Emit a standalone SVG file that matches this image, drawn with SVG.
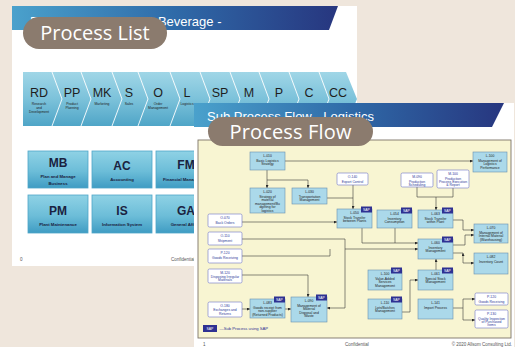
<svg xmlns="http://www.w3.org/2000/svg" width="515" height="347" viewBox="0 0 515 347">
<defs>
<linearGradient id="hdr" x1="0" y1="0" x2="1" y2="0"><stop offset="0" stop-color="#4aa1cc"/><stop offset="0.5" stop-color="#2f6aa8"/><stop offset="1" stop-color="#27367f"/></linearGradient>
<linearGradient id="band" x1="0" y1="0" x2="0" y2="1"><stop offset="0" stop-color="#a0d6e7"/><stop offset="0.5" stop-color="#7cc2da"/><stop offset="1" stop-color="#4fa5c7"/></linearGradient>
<linearGradient id="box" x1="0" y1="0" x2="0" y2="1"><stop offset="0" stop-color="#8fd2e5"/><stop offset="0.55" stop-color="#6cbdd8"/><stop offset="1" stop-color="#3f9cc3"/></linearGradient>
<marker id="ah" viewBox="0 0 6 6" refX="6" refY="3" markerWidth="3" markerHeight="3" markerUnits="userSpaceOnUse" orient="auto-start-reverse"><path d="M0,0 L6,3 L0,6 z" fill="#2a2a2a"/></marker>
<style>
.t{font-family:"Liberation Sans",Arial,sans-serif;}
.big{font-family:"Liberation Sans",Arial,sans-serif;font-size:12.5px;fill:#1e1e1e;text-anchor:middle;}
.sub{font-family:"Liberation Sans",Arial,sans-serif;font-size:3.4px;fill:#222;text-anchor:middle;}
.bx{fill:url(#box);stroke:#4fa6c8;stroke-width:0.8;}
.bxh{font-family:"Liberation Sans",Arial,sans-serif;font-size:12px;font-weight:bold;fill:#1a2240;text-anchor:middle;}
.bxs{font-family:"Liberation Sans",Arial,sans-serif;font-size:4.3px;font-weight:bold;fill:#1a2240;text-anchor:middle;}
.pill{fill:#8b7b6e;}
.pillt{font-family:"Open Sans","Noto Sans",sans-serif;font-size:20px;fill:#ffffff;text-anchor:middle;}
.ttl{font-family:"Liberation Sans",Arial,sans-serif;font-size:13px;fill:#ffffff;}
.foot{font-family:"Liberation Sans",Arial,sans-serif;font-size:4.5px;fill:#555;}
.nb rect.n{fill:#abd9ea;stroke:#6a8fae;stroke-width:0.6;}
.nw rect.n{fill:#ffffff;stroke:#6b74c6;stroke-width:0.6;}
.nb text{font-family:"Liberation Sans",Arial,sans-serif;font-size:3.4px;fill:#222;text-anchor:middle;}
.nw text{font-family:"Liberation Sans",Arial,sans-serif;font-size:3.4px;fill:#2d3a9a;text-anchor:middle;}
rect.sap{fill:#2e3192;}
text.sapt{font-family:"Liberation Sans",Arial,sans-serif;font-size:3.4px;fill:#ffffff;text-anchor:middle;}
.c{fill:none;stroke:#3a3a3a;stroke-width:0.6;}
.ca{fill:none;stroke:#3a3a3a;stroke-width:0.6;marker-end:url(#ah);}
</style>
</defs>
<rect x="0" y="0" width="515" height="347" fill="#efe6dc"/>

<!-- Slide 1: Process List -->
<g id="slide-process-list">
<rect x="12" y="6" width="345" height="260" fill="#ffffff"/>
<polygon points="12,6 338,6 329,30 12,30" fill="url(#hdr)"/>
<text class="ttl" x="30" y="25.5">Process List - Food &amp; Beverage -</text>
<polygon points="23,72 346,72 357,99 346,126 23,126" fill="url(#band)"/>
<g fill="none" stroke="#ffffff" stroke-width="0.9">
<polyline points="52,72 62,99 52,126"/><polyline points="81,72 91,99 81,126"/><polyline points="112,72 122,99 112,126"/><polyline points="138,72 148,99 138,126"/><polyline points="170,72 180,99 170,126"/><polyline points="200,72 210,99 200,126"/><polyline points="230,72 240,99 230,126"/><polyline points="259,72 269,99 259,126"/><polyline points="289,72 299,99 289,126"/><polyline points="319,72 329,99 319,126"/>
</g>
<text class="big" x="39" y="97">RD</text><text class="big" x="72" y="97">PP</text><text class="big" x="102" y="97">MK</text><text class="big" x="129" y="97">S</text><text class="big" x="158" y="97">O</text><text class="big" x="187" y="97">L</text><text class="big" x="220" y="97">SP</text><text class="big" x="249" y="97">M</text><text class="big" x="279" y="97">P</text><text class="big" x="309" y="97">C</text><text class="big" x="338" y="97">CC</text>
<text class="sub" x="39" y="104.5">Research</text><text class="sub" x="39" y="108.5">and</text><text class="sub" x="39" y="112.5">Development</text>
<text class="sub" x="72" y="104.5">Product</text><text class="sub" x="72" y="108.5">Planning</text>
<text class="sub" x="102" y="104.5">Marketing</text>
<text class="sub" x="129" y="104.5">Sales</text>
<text class="sub" x="158" y="104.5">Order</text><text class="sub" x="158" y="108.5">Management</text>
<text class="sub" x="187" y="104.5">Logistics</text>
<g id="box-mb"><rect class="bx" x="28" y="151" width="60" height="37"/><text class="bxh" x="58" y="166.5">MB</text><text class="bxs" x="58" y="178">Plan and Manage</text><text class="bxs" x="58" y="184.5">Business</text></g>
<g id="box-ac"><rect class="bx" x="92" y="151" width="60" height="37"/><text class="bxh" x="122" y="170">AC</text><text class="bxs" x="122" y="181">Accounting</text></g>
<g id="box-fm"><rect class="bx" x="156" y="151" width="60" height="37"/><text class="bxh" x="186" y="168.5">FM</text><text class="bxs" x="186" y="181">Financial Management</text></g>
<g id="box-pm"><rect class="bx" x="28" y="195" width="60" height="38"/><text class="bxh" x="58" y="214.5">PM</text><text class="bxs" x="58" y="225.5">Plant Maintenance</text></g>
<g id="box-is"><rect class="bx" x="92" y="195" width="60" height="38"/><text class="bxh" x="122" y="214.5">IS</text><text class="bxs" x="122" y="225.5">Information System</text></g>
<g id="box-ga"><rect class="bx" x="156" y="195" width="60" height="38"/><text class="bxh" x="186" y="214.5">GA</text><text class="bxs" x="186" y="225.5">General Affairs</text></g>
<text class="foot" x="20" y="260.5">0</text>
<text class="foot" x="171" y="260.5">Confidential</text>
<rect class="pill" x="23" y="17" width="144" height="32" rx="16"/>
<text class="pillt" x="95" y="40">Process List</text>
</g>

<!-- Slide 2: Process Flow -->
<g id="slide-process-flow">
<rect x="194" y="103" width="320" height="244" fill="#ffffff"/>
<polygon points="194,103 504,103 492,127 194,127" fill="url(#hdr)"/>
<text class="ttl" x="207" y="121">Sub Process Flow - Logistics</text>
<rect x="198" y="140" width="313" height="198" fill="#f8f5d2" stroke="#7d7468" stroke-width="0.9"/>
<text class="foot" x="203" y="345.5">1</text>
<text class="foot" x="345" y="345.5">Confidential</text>
<text class="foot" x="512" y="345.5" text-anchor="end">© 2020 Allsom Consulting Ltd.</text>
</g>

<g id="connectors">
<path class="ca" d="M267,170 V188"/>
<path class="ca" d="M267,180 H308 V188"/>
<path class="ca" d="M285,161 H473"/>
<path class="c" d="M327,198 H353"/>
<path class="ca" d="M353,185 V209"/>
<path class="ca" d="M242,222 H337"/>
<path class="c" d="M417,187 V197 H453 V188"/>
<path class="ca" d="M436,197 V210"/>
<path class="ca" d="M453,220 H463 V230 H474"/>
<path class="ca" d="M453,245 H465 V235 H474"/>
<path class="ca" d="M463,253 V263 H474" marker-start="url(#ah)"/>
<path class="c" d="M453,253 H463"/>
<path class="ca" d="M436,270 V259"/>
<path class="ca" d="M402,312 H410 V280 H418"/>
<path class="ca" d="M453,308 H463 V299 H475"/>
<path class="ca" d="M463,308 V320 H475"/>
<path class="ca" d="M242,309 H250"/>
<path class="ca" d="M285,309 H291"/>
<path class="ca" d="M242,275 H308 V297"/>
<path class="ca" d="M362,228 V243 H418"/>
<path class="c" d="M395,228 V243"/>
<path class="ca" d="M242,239 H345 V249 H418"/>
<path class="c" d="M242,256 H330 V249"/>
<path class="ca" d="M345,249 V308 H327"/>
</g>

<g id="n-l010" class="nb"><rect class="n" x="250" y="152" width="35" height="18"/><text x="267.5" y="156.8">L-010</text><text x="267.5" y="162">Basic Logistics</text><text x="267.5" y="165.4">Strategy</text></g>
<g id="n-l020" class="nb"><rect class="n" x="250" y="188" width="35" height="25"/><text x="267.5" y="192.8">L-020</text><text x="267.5" y="198">Strategy of</text><text x="267.5" y="201.4">material</text><text x="267.5" y="204.8">management/Bu</text><text x="267.5" y="208.2">dgeting for</text><text x="267.5" y="211.6">logistics</text></g>
<g id="n-l030" class="nb"><rect class="n" x="292" y="188" width="35" height="16"/><text x="309.5" y="192.8">L-030</text><text x="309.5" y="198">Transportation</text><text x="309.5" y="201.4">Management</text></g>
<g id="n-l050" class="nb"><rect class="n" x="337" y="209" width="35" height="19"/><rect class="sap" x="361" y="206.5" width="11" height="6"/><text class="sapt" x="366.5" y="210.8">SAP</text><text x="354.5" y="213.8">L-050</text><text x="354.5" y="219">Stock Transfer</text><text x="354.5" y="222.4">between Plants</text></g>
<g id="n-l054" class="nb"><rect class="n" x="377" y="210" width="35" height="18"/><rect class="sap" x="401" y="207.5" width="11" height="6"/><text class="sapt" x="406.5" y="211.8">SAP</text><text x="394.5" y="214.8">L-054</text><text x="394.5" y="220">Inventory</text><text x="394.5" y="223.4">Consumption</text></g>
<g id="n-l063" class="nb"><rect class="n" x="418" y="210" width="35" height="18"/><rect class="sap" x="442" y="207.5" width="11" height="6"/><text class="sapt" x="447.5" y="211.8">SAP</text><text x="435.5" y="214.8">L-063</text><text x="435.5" y="220">Stock Transfer</text><text x="435.5" y="223.4">within Plant</text></g>
<g id="n-l100" class="nb"><rect class="n" x="473" y="152" width="34" height="20"/><text x="490" y="156.8">L-100</text><text x="490" y="162">Management of</text><text x="490" y="165.4">Logistics</text><text x="490" y="168.8">Performance</text></g>
<g id="n-l070" class="nb"><rect class="n" x="474" y="224" width="34" height="19"/><text x="491" y="228.8">L-070</text><text x="491" y="234">Management of</text><text x="491" y="237.4">Internal Material</text><text x="491" y="240.8">(Warehousing)</text></g>
<g id="n-l060" class="nb"><rect class="n" x="418" y="239" width="35" height="20"/><rect class="sap" x="442" y="236.5" width="11" height="6"/><text class="sapt" x="447.5" y="240.8">SAP</text><text x="435.5" y="243.8">L-060</text><text x="435.5" y="249">Inventory</text><text x="435.5" y="252.4">Management</text></g>
<g id="n-l082" class="nb"><rect class="n" x="474" y="253" width="34" height="21"/><text x="491" y="257.8">L-082</text><text x="491" y="263">Inventory Count</text></g>
<g id="n-l100b" class="nb"><rect class="n" x="368" y="270" width="34" height="20"/><rect class="sap" x="391" y="267.5" width="11" height="6"/><text class="sapt" x="396.5" y="271.8">SAP</text><text x="385" y="274.8">L-100</text><text x="385" y="280">Value-Added</text><text x="385" y="283.4">Services</text><text x="385" y="286.8">Management</text></g>
<g id="n-l061" class="nb"><rect class="n" x="418" y="270" width="35" height="20"/><rect class="sap" x="442" y="267.5" width="11" height="6"/><text class="sapt" x="447.5" y="271.8">SAP</text><text x="435.5" y="274.8">L-061</text><text x="435.5" y="280">Special Stock</text><text x="435.5" y="283.4">Management</text></g>
<g id="n-l110" class="nb"><rect class="n" x="368" y="299" width="34" height="20"/><rect class="sap" x="391" y="296.5" width="11" height="6"/><text class="sapt" x="396.5" y="300.8">SAP</text><text x="385" y="303.8">L-110</text><text x="385" y="309">Lots/Batches</text><text x="385" y="312.4">Management</text></g>
<g id="n-l141" class="nb"><rect class="n" x="418" y="299" width="35" height="20"/><text x="435.5" y="303.8">L-141</text><text x="435.5" y="309">Import Process</text></g>
<g id="n-l083" class="nb"><rect class="n" x="250" y="299" width="35" height="19"/><rect class="sap" x="274" y="296.5" width="11" height="6"/><text class="sapt" x="279.5" y="300.8">SAP</text><text x="267.5" y="303.8">L-083</text><text x="267.5" y="309">Goods receipt from</text><text x="267.5" y="312.4">non-supplier</text><text x="267.5" y="315.8">(Returned Products)</text></g>
<g id="n-l090" class="nb"><rect class="n" x="291" y="297" width="36" height="25"/><rect class="sap" x="316" y="294.5" width="11" height="6"/><text class="sapt" x="321.5" y="298.8">SAP</text><text x="309" y="301.8">L-090</text><text x="309" y="307">Management of</text><text x="309" y="310.4">Material</text><text x="309" y="313.8">Disposal and</text><text x="309" y="317.2">Waste</text></g>

<g id="n-o140" class="nw"><rect class="n" x="337" y="173" width="31" height="12" rx="1.5"/><text x="352.5" y="177.7">O-140</text><text x="352.5" y="182.7">Export Control</text></g>
<g id="n-m090" class="nw"><rect class="n" x="401" y="173" width="32" height="14" rx="1.5"/><text x="417" y="177.7">M-090</text><text x="417" y="182.5">Production</text><text x="417" y="185.9">Scheduling</text></g>
<g id="n-m100" class="nw"><rect class="n" x="437" y="170" width="32" height="18" rx="1.5"/><text x="453" y="174.7">M-100</text><text x="453" y="179.5">Production</text><text x="453" y="182.9">Process Execution</text><text x="453" y="186.3">&amp; Report</text></g>
<g id="n-o070" class="nw"><rect class="n" x="208" y="214" width="34" height="13" rx="1.5"/><text x="225" y="218.7">O-070</text><text x="225" y="223.7">Back Orders</text></g>
<g id="n-o110" class="nw"><rect class="n" x="208" y="232" width="34" height="13" rx="1.5"/><text x="225" y="236.7">O-110</text><text x="225" y="241.7">Shipment</text></g>
<g id="n-p120a" class="nw"><rect class="n" x="208" y="249" width="34" height="14" rx="1.5"/><text x="225" y="253.7">P-120</text><text x="225" y="259">Goods Receiving</text></g>
<g id="n-m120" class="nw"><rect class="n" x="208" y="269" width="34" height="14" rx="1.5"/><text x="225" y="273.7">M-120</text><text x="225" y="278">Disposing Irregular</text><text x="225" y="281.4">Materials</text></g>
<g id="n-o180" class="nw"><rect class="n" x="208" y="302" width="34" height="15" rx="1.5"/><text x="225" y="306.7">O-180</text><text x="225" y="311.3">Exchanges and</text><text x="225" y="314.7">Returns</text></g>
<g id="n-p120b" class="nw"><rect class="n" x="475" y="293" width="33" height="12" rx="1.5"/><text x="491.5" y="297.7">P-120</text><text x="491.5" y="302.7">Goods Receiving</text></g>
<g id="n-p130" class="nw"><rect class="n" x="475" y="310" width="33" height="18" rx="1.5"/><text x="491.5" y="314.7">P-130</text><text x="491.5" y="319.5">Quality Inspection</text><text x="491.5" y="322.9">of Purchased</text><text x="491.5" y="326.3">Items</text></g>

<g id="legend"><rect class="sap" x="203" y="325" width="14" height="7"/><text class="sapt" x="210" y="329.8">SAP</text><text class="t" x="219.5" y="330.3" font-size="4.2" fill="#2e3192">---Sub Process using SAP</text></g>

<rect class="pill" x="208" y="117" width="165" height="29" rx="14.5"/>
<text class="pillt" x="290.5" y="138.5" textLength="122">Process Flow</text>
</svg>
